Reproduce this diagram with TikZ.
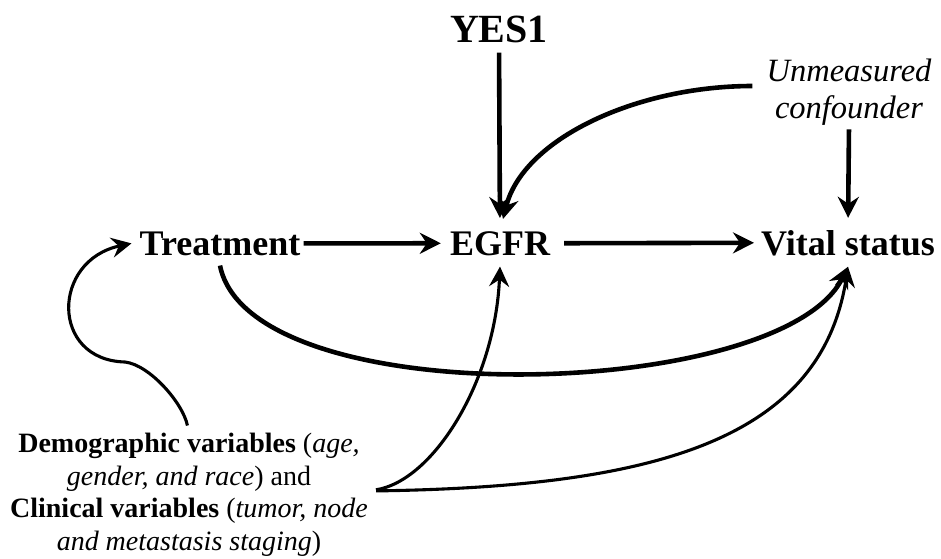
\documentclass[tikz,border=0pt]{standalone}
\usepackage{fontspec}
\setmainfont{Liberation Serif}
\usetikzlibrary{arrows.meta}
\tikzset{
  var/.style={inner sep=0pt, anchor=base, font=\fontsize{36}{40}\selectfont\bfseries},
  conn/.style={line width=4.6pt, -{Stealth[length=21pt,width=21pt,inset=7pt]}},
  thinconn/.style={line width=3.1pt, -{Stealth[length=20pt,width=20pt,inset=7pt]}},
}
\begin{document}
\begin{tikzpicture}[x=1pt,y=-1pt]
\useasboundingbox (0,0) rectangle (941,558);
\node[var] (treat) at (220,255) {Treatment};
\node[var] (egfr) at (500,255) {EGFR};
\node[var] (vital) at (848,255) {Vital status};
\node[var, font=\fontsize{40}{44}\selectfont\bfseries] (yes) at (499,42) {YES1};
\node[inner sep=0pt, align=center, font=\fontsize{32.5}{37}\selectfont\itshape] (um) at (849,92) {Unmeasured\\confounder};
\node[inner sep=0pt, align=center, font=\fontsize{28}{32.5}\selectfont] (demo) at (189,495)
  {\textbf{Demographic variables} (\textit{age,}\\ \textit{gender, and race}) and\\ \textbf{Clinical variables} (\textit{tumor, node}\\ \textit{and metastasis staging})};
\coordinate (bend) at (125,362);

\draw[conn, shorten <=3pt, shorten >=9pt] (treat.east) -- (egfr.west);
\draw[conn, shorten <=14pt, shorten >=7pt] (egfr.east) -- (vital.west);
\draw[conn, shorten <=10pt, shorten >=13pt] (yes.south) -- (egfr.north);
\draw[conn, shorten <=4pt, shorten >=12pt] (um.south) -- (vital.north);
\draw[conn, shorten <=14pt] ([yshift=6pt]um.west) .. controls +(-130,0) and +(20,-80) .. ([xshift=3pt,yshift=12pt]egfr.north);
\draw[conn] ([yshift=-10pt]treat.south) .. controls +(30,150) and +(-67,135) .. ([yshift=-11pt]vital.south);
\draw[thinconn, shorten <=8pt] (demo.north) .. controls +(-6,-30) and +(25,3) .. (bend)
  .. controls +(-75,-2) and +(-80,17) .. ([xshift=-8pt]treat.west);
\draw[thinconn, shorten <=8pt] ([yshift=4pt]demo.east) .. controls +(65,-10) and +(-5,115) .. ([yshift=-11pt]egfr.south);
\draw[thinconn, shorten <=8pt] ([yshift=4pt]demo.east) .. controls +(283,-4) and +(-27,175) .. ([yshift=-11pt]vital.south);
\end{tikzpicture}
\end{document}
